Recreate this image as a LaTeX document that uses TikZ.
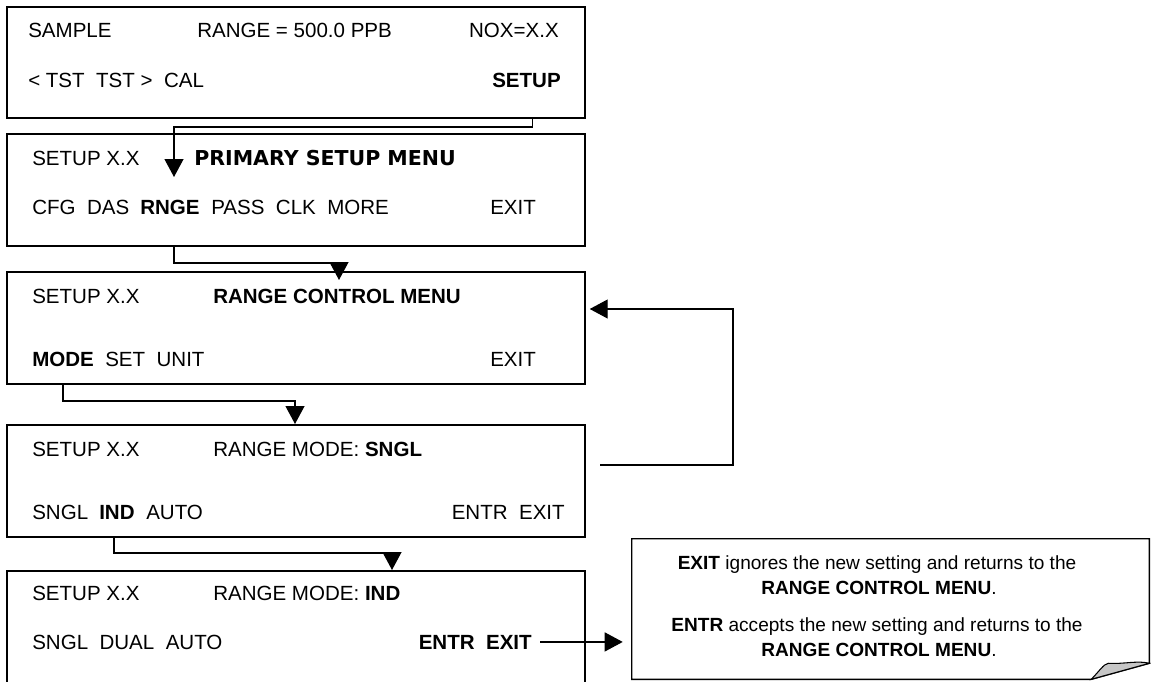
\documentclass[tikz,border=0pt]{standalone}
\usepackage{fontspec}
\setmainfont{Liberation Sans}
\newfontfamily\verd{DejaVu Sans}
\usetikzlibrary{arrows.meta,calc}
\begin{document}
\begin{tikzpicture}[x=0.75pt,y=-0.75pt,
  box/.style={draw,line width=1.1pt,minimum width=433.5pt,minimum height=84pt,inner sep=0pt},
  txt/.style={anchor=base west,inner sep=0pt,font=\fontsize{15.4}{18}\selectfont},
  txtr/.style={anchor=base east,inner sep=0pt,font=\fontsize{15.4}{18}\selectfont},
  ntxt/.style={anchor=base,inner sep=0pt,font=\fontsize{14.3}{17}\selectfont},
  conn/.style={line width=0.9pt},
  arr/.style={conn,-{Triangle[length=13.5pt,width=14.25pt]}}]
\useasboundingbox (0,0) rectangle (1151,681);
\clip (0,0) rectangle (1151,681);

% boxes
\node[box,minimum height=83.25pt] (b1) at (296,62.5) {};
\node[box] (b2) at (296,190) {};
\node[box] (b3) at (296,328) {};
\node[box] (b4) at (296,481) {};
\node[box] (b5) at (296,627) {};

% box 1
\node[txt] (sample) at (28,38) {SAMPLE};
\node[txt] (range) at (197,38) {RANGE = 500.0 PPB};
\node[txtr] (nox) at (559,38) {NOX=X.X};
\node[txt] (tst) at (28,88) {< TST\ \ TST >\ \ CAL};
\node[txtr] (setupk) at (561,88) {\textbf{SETUP}};

% box 2
\node[txt] (s2) at (32,166) {SETUP X.X};
\node[txt,font={\fontsize{15.4}{18}\verd\bfseries}] (psm) at (194,166) {PRIMARY SETUP MENU};
\node[txt] (cfg) at (32,214) {CFG\ \ DAS};
\node[txt] (rnge) at (140,214) {\textbf{RNGE}};
\node[txt] (pass) at (211,214) {PASS\ \ CLK\ \ MORE};
\node[txt] (exit2) at (490,214) {EXIT};

% box 3
\node[txt] (s3) at (32,303) {SETUP X.X};
\node[txt] (rcm) at (213,303) {\textbf{RANGE CONTROL MENU}};
\node[txt] (mode) at (32,366) {\textbf{MODE}};
\node[txt] (setunit) at (105,366) {SET\ \ UNIT};
\node[txt] (exit3) at (490,366) {EXIT};

% box 4
\node[txt] (s4) at (32,456) {SETUP X.X};
\node[txt] (rms) at (213,456) {RANGE MODE: \textbf{SNGL}};
\node[txt] (sngl4) at (32,519) {SNGL};
\node[txt] (ind) at (99,519) {\textbf{IND}};
\node[txt] (auto4) at (146,519) {AUTO};
\node[txtr] (ee4) at (565,519) {ENTR\ \ EXIT};

% box 5
\node[txt] (s5) at (32,600) {SETUP X.X};
\node[txt] (rmi) at (213,600) {RANGE MODE: \textbf{IND}};
\node[txt] (sda) at (32,649) {SNGL\ \ DUAL\ \ AUTO};
\node[txtr] (ee5) at (532,649) {\textbf{ENTR\ \ EXIT}};

% note
\node[minimum width=387.75pt,minimum height=105pt,inner sep=0pt] (note) at (890.5,609) {};
\draw[line width=1.1pt] (note.north west) -- (note.north east) -- ($(note.south east)+(0,-16)$)
  -- ($(note.south east)+(-58,0)$) -- (note.south west) -- cycle;
\filldraw[fill=gray!45,line width=0.8pt] ($(note.south east)+(-58,0)$)
  .. controls ($(note.south east)+(-50,-8)$) and ($(note.south east)+(-46,-15)$) .. ($(note.south east)+(-41,-16)$)
  .. controls ($(note.south east)+(-25,-15)$) and ($(note.south east)+(-12,-19)$) .. ($(note.south east)+(0,-16)$)
  -- cycle;
\node[ntxt] (n1) at (877,569) {\textbf{EXIT} ignores the new setting and returns to the};
\node[ntxt] (n2) at (879,594) {\textbf{RANGE CONTROL MENU}.};
\node[ntxt] (n3) at (877,631) {\textbf{ENTR} accepts the new setting and returns to the};
\node[ntxt] (n4) at (879,656) {\textbf{RANGE CONTROL MENU}.};

% connectors
\coordinate (k1) at (174,127); \coordinate (a2) at (174,177);
\draw[arr] ($(setupk.south |- b1.south)+(6,0)$) |- (k1) -- (a2);
\coordinate (k2) at (339,263); \coordinate (a3) at (339,280);
\draw[arr] ($(rnge.south |- b2.south)+(4,0)$) |- (k2) -- (a3);
\coordinate (k3) at (295,401); \coordinate (a4) at (295,424);
\draw[arr] (mode.south |- b3.south) |- (k3) -- (a4);
\coordinate (k4) at (392,553); \coordinate (a5) at (392,570);
\draw[arr] ($(ind.south |- b4.south)+(-3,0)$) |- (k4) -- (a5);
\coordinate (r0) at (600,465); \coordinate (r2) at (733,309);
\draw[arr] (r0) -| (r2) -- ($(b3.east |- r2)+(4,0)$);
\draw[arr] ($(ee5.east)+(8,0)$) -- ($(note.west |- ee5.east)+(-9,0)$);
\end{tikzpicture}
\end{document}
